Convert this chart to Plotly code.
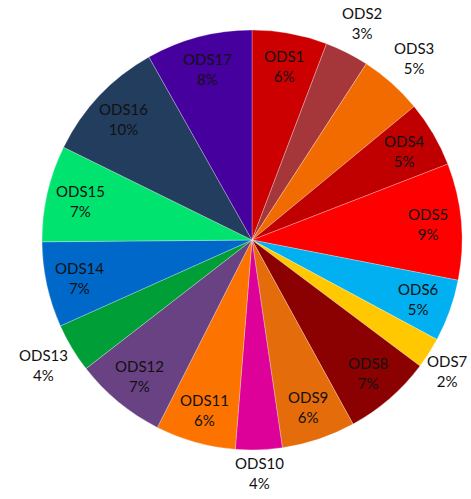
import math
import plotly.graph_objects as go

labels = ["ODS1", "ODS2", "ODS3", "ODS4", "ODS5", "ODS6", "ODS7", "ODS8", "ODS9",
          "ODS10", "ODS11", "ODS12", "ODS13", "ODS14", "ODS15", "ODS16", "ODS17"]
values = [5.8, 3.4, 4.9, 5.1, 9.0, 4.8, 2.4, 6.8, 5.7,
          3.6, 6.2, 7.1, 3.8, 6.6, 7.45, 9.6, 8.2]
colors = ["#CC0000", "#A5373A", "#F26B00", "#C00000", "#FF0000", "#00B0F0", "#FFC800",
          "#8B0000", "#E46C0A", "#DD0099", "#FC7300", "#684283", "#009E36", "#0068C8",
          "#00E36E", "#223D5E", "#45009E"]
outside_labels = ["ODS2", "ODS3", "ODS7", "ODS10", "ODS13"]

FONT = dict(family="Lato", size=15, color="#111111")

fig = go.Figure(go.Pie(
    labels=labels,
    values=values,
    sort=False,
    direction="clockwise",
    rotation=0,
    marker=dict(colors=colors, line=dict(color="rgba(255,255,255,0.45)", width=0.6)),
    textinfo="none",
    showlegend=False,
    hoverinfo="label+percent",
    domain=dict(x=[0, 1], y=[0, 1]),
))

# data labels placed at the mid-angle of each slice (Excel-style "best fit")
total = sum(values)
cum = 0.0
annotations = []
for lab, v in zip(labels, values):
    mid = (cum + v / 2) / total * 2 * math.pi
    cum += v
    k = 1.16 if lab in outside_labels else 0.84
    x = 0.5 + 0.5 * k * math.sin(mid)
    y = 0.5 + 0.5 * k * math.cos(mid)
    # keep outside labels inside the page
    x = min(max(x, -0.02), 0.965)
    y = max(y, -0.055)
    annotations.append(dict(
        x=x, y=y,
        xref="paper", yref="paper",
        text=f"{lab}<br>{round(v / total * 100)}%",
        showarrow=False,
        font=FONT,
        xanchor="center", yanchor="middle",
    ))

fig.update_layout(
    width=471, height=499,
    margin=dict(l=42, r=9, t=30, b=49),
    paper_bgcolor="white",
    plot_bgcolor="white",
    annotations=annotations,
)

fig.write_html("out.html")
